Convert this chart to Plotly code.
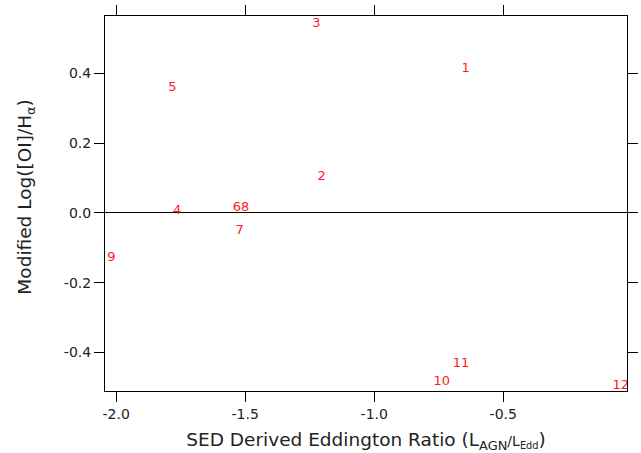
import plotly.graph_objects as go

# Object IDs with their Eddington ratio (log) and modified [OI]/Halpha (log)
labels = ["1", "2", "3", "4", "5", "6", "7", "8", "9", "10", "11", "12"]
edd_ratio = [-0.646, -1.204, -1.224, -1.764, -1.782, -1.532, -1.522, -1.500,
             -2.019, -0.738, -0.664, -0.045]
log_oi_ha = [0.414, 0.104, 0.544, 0.005, 0.360, 0.015, -0.051, 0.015,
             -0.128, -0.485, -0.433, -0.496]

x_ticks = [-2.0, -1.5, -1.0, -0.5]
y_ticks = [-0.4, -0.2, 0.0, 0.2, 0.4]

font_family = "DejaVu Sans"

fig = go.Figure(
    go.Scatter(
        x=edd_ratio,
        y=log_oi_ha,
        mode="text",
        text=labels,
        textposition="middle center",
        textfont=dict(family=font_family, size=13, color="#ff1a1a"),
        cliponaxis=True,
        hoverinfo="skip",
    )
)

axis_common = dict(
    showline=True,
    linecolor="black",
    linewidth=1,
    mirror="ticks",
    ticks="outside",
    ticklen=10,
    tickwidth=1,
    tickcolor="black",
    showgrid=False,
    automargin=False,
    tickfont=dict(family=font_family, size=14, color="#222222"),
)

fig.update_xaxes(
    range=[-2.0434, -0.0205],
    tickvals=x_ticks,
    ticktext=[f"{v:.1f}" for v in x_ticks],
    zeroline=False,
    title=dict(
        text="SED Derived Eddington Ratio (L<sub>AGN</sub>"
             "<span style='font-size:14px'>/L<sub>Edd</sub></span>)",
        font=dict(family=font_family, size=18.5, color="#222222"),
    ),
    **axis_common,
)

fig.update_yaxes(
    range=[-0.511, 0.565],
    tickvals=y_ticks,
    ticktext=[f"{v:.1f}" for v in y_ticks],
    zeroline=True,
    zerolinecolor="black",
    zerolinewidth=1,
    **axis_common,
)

# Vertical axis title placed as a rotated annotation left of the tick labels
fig.add_annotation(
    text="Modified Log([OI]/H<sub>α</sub>)",
    textangle=-90,
    xref="paper", yref="paper",
    x=-0.153, y=0.516,
    xanchor="center", yanchor="middle",
    showarrow=False,
    font=dict(family=font_family, size=18.5, color="#222222"),
)

fig.update_layout(
    width=641,
    height=453,
    margin=dict(l=105, r=14, t=16, b=62),
    paper_bgcolor="white",
    plot_bgcolor="white",
    showlegend=False,
)

fig.write_html("out.html")
